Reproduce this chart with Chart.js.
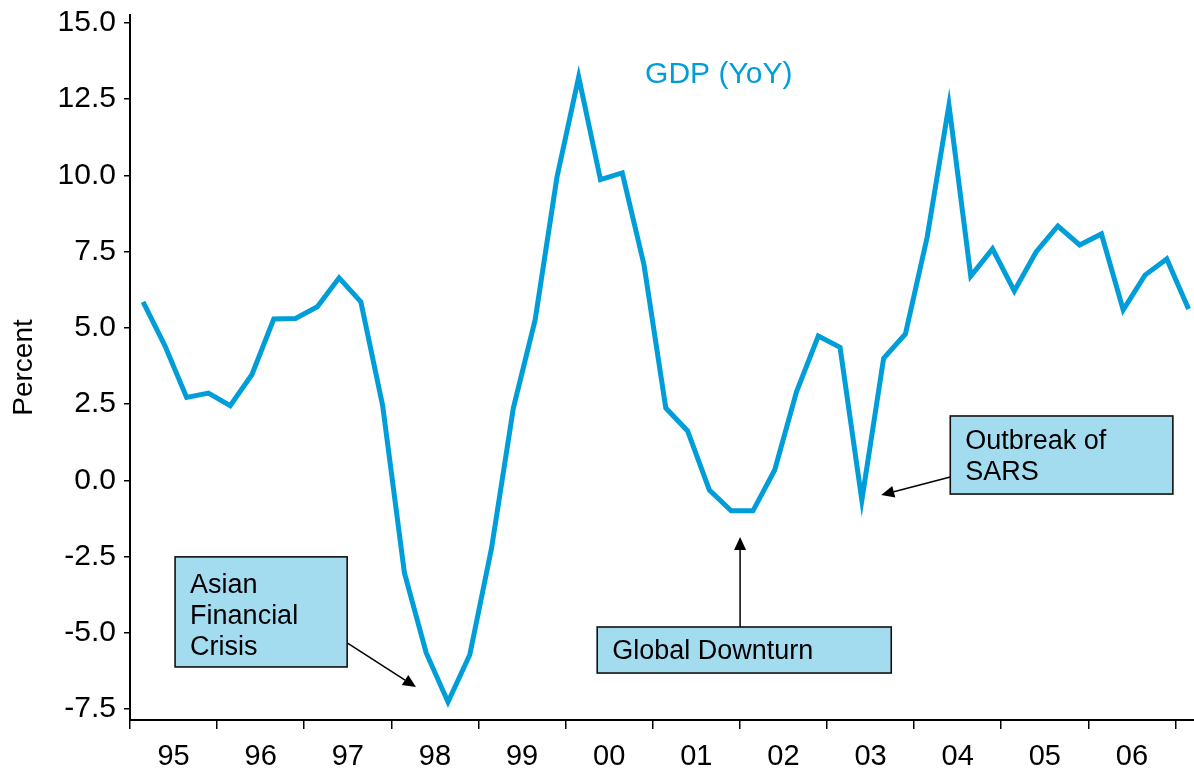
<!DOCTYPE html>
<html><head><meta charset="utf-8">
<script src="https://cdn.jsdelivr.net/npm/chart.js@4/dist/chart.umd.min.js"></script>
<style>html,body{margin:0;padding:0;background:#fff;overflow:hidden}canvas{display:block}</style>
</head><body>
<canvas id="c" width="1194" height="775"></canvas>
<script>
// Year labels on the x axis (one per year, 4 quarters each)
const years = ['95','96','97','98','99','00','01','02','03','04','05','06'];
// Quarterly periods, 1995Q1 .. 2007Q1
const quarters = [
 '95Q1','95Q2','95Q3','95Q4','96Q1','96Q2','96Q3','96Q4','97Q1','97Q2','97Q3','97Q4',
 '98Q1','98Q2','98Q3','98Q4','99Q1','99Q2','99Q3','99Q4','00Q1','00Q2','00Q3','00Q4',
 '01Q1','01Q2','01Q3','01Q4','02Q1','02Q2','02Q3','02Q4','03Q1','03Q2','03Q3','03Q4',
 '04Q1','04Q2','04Q3','04Q4','05Q1','05Q2','05Q3','05Q4','06Q1','06Q2','06Q3','06Q4','07Q1'
];
// GDP growth, year on year, percent
const gdpYoY = [
 5.85, 4.42, 2.72, 2.86, 2.45, 3.47, 5.29, 5.31, 5.69, 6.64, 5.85, 2.45,
 -3.04, -5.66, -7.27, -5.72, -2.22, 2.37, 5.26, 9.93, 13.23, 9.86, 10.08, 7.06,
 2.37, 1.62, -0.32, -1.0, -1.0, 0.34, 2.9, 4.73, 4.36, -0.65, 4.0, 4.8,
 7.98, 12.31, 6.7, 7.59, 6.21, 7.49, 8.34, 7.72, 8.08, 5.59, 6.73, 7.26, 5.62
];
const yTicks = [-7.5, -5.0, -2.5, 0.0, 2.5, 5.0, 7.5, 10.0, 12.5, 15.0];
const seriesName = 'GDP (YoY)';
const yTitle = 'Percent';

// Annotation callouts (box corners and arrows in data units: x = quarter index, y = percent)
const notes = [
  {lines:['Asian','Financial','Crisis'], box:[2.07,-2.51,9.97,-6.12], from:[9.97,-5.33], to:[13.13,-6.78], first:27},
  {lines:['Global Downturn'], box:[21.45,-4.81,34.95,-6.32], from:[28.01,-4.81], to:[28.01,-1.86], first:23},
  {lines:['Outbreak of','SARS'], box:[37.66,2.11,47.88,-0.45], from:[37.66,0.11], to:[34.49,-0.48], first:24}
];

const BLUE = '#009ED9';
const FONT = "'Liberation Sans', Arial, sans-serif";

const points = gdpYoY.map((v, i) => ({x: i + 0.6, y: v}));

function arrow(ctx, x1, y1, x2, y2) {
  const ang = Math.atan2(y2 - y1, x2 - x1);
  const L = 13, W = 6;
  const bx = x2 - L * Math.cos(ang), by = y2 - L * Math.sin(ang);
  ctx.beginPath();
  ctx.moveTo(x1, y1); ctx.lineTo(bx, by);
  ctx.strokeStyle = '#000'; ctx.lineWidth = 1.5; ctx.stroke();
  ctx.beginPath();
  ctx.moveTo(x2, y2);
  ctx.lineTo(bx + W * Math.sin(ang), by - W * Math.cos(ang));
  ctx.lineTo(bx - W * Math.sin(ang), by + W * Math.cos(ang));
  ctx.closePath(); ctx.fillStyle = '#000'; ctx.fill();
}

const notesPlugin = {
  id: 'notes',
  afterDatasetsDraw(chart) {
    const {ctx, scales: {x, y}} = chart;
    ctx.save();
    // series label
    ctx.font = '30px ' + FONT;
    ctx.fillStyle = BLUE;
    ctx.textBaseline = 'alphabetic';
    ctx.textAlign = 'left';
    ctx.fillText(seriesName, x.getPixelForValue(23.65), y.getPixelForValue(13.36) + 10);
    for (const n of notes) {
      const x1 = x.getPixelForValue(n.box[0]), y1 = y.getPixelForValue(n.box[1]);
      const x2 = x.getPixelForValue(n.box[2]), y2 = y.getPixelForValue(n.box[3]);
      arrow(ctx, x.getPixelForValue(n.from[0]), y.getPixelForValue(n.from[1]),
                 x.getPixelForValue(n.to[0]), y.getPixelForValue(n.to[1]));
      ctx.fillStyle = '#A3DBEF';
      ctx.fillRect(x1, y1, x2 - x1, y2 - y1);
      ctx.strokeStyle = '#111'; ctx.lineWidth = 1.6;
      ctx.strokeRect(x1, y1, x2 - x1, y2 - y1);
      ctx.fillStyle = '#000';
      ctx.font = '27px ' + FONT;
      n.lines.forEach((t, k) => {
        ctx.fillText(t, x1 + 15, y1 + n.first + k * 30.8 + 9.5);
      });
    }
    ctx.restore();
  }
};

new Chart(document.getElementById('c'), {
  type: 'line',
  data: {
    labels: quarters,
    datasets: [{
      label: seriesName,
      data: points,
      borderColor: BLUE,
      borderWidth: 5,
      pointRadius: 0,
      tension: 0,
      fill: false,
      borderJoinStyle: 'miter'
    }]
  },
  options: {
    responsive: false,
    animation: false,
    devicePixelRatio: 1,
    layout: {padding: {top: 15, right: 0, bottom: 0, left: 0}},
    plugins: {legend: {display: false}, tooltip: {enabled: false}},
    scales: {
      x: {
        type: 'linear',
        min: 0, max: 48.85,
        afterBuildTicks: s => { s.ticks = []; for (let v = 0; v <= 48; v += 2) s.ticks.push({value: v}); },
        afterFit: s => { s.height = 55; s.paddingLeft = 0; s.paddingRight = 0; },
        ticks: {
          autoSkip: false, maxRotation: 0, minRotation: 0,
          padding: 11,
          color: '#000',
          font: {family: FONT, size: 29},
          callback: v => (v % 4 === 2 ? years[(v - 2) / 4] : '')
        },
        grid: {
          drawOnChartArea: false, drawTicks: true, tickLength: 9,
          lineWidth: 1.5,
          color: c => (c.tick && c.tick.value % 4 === 0 ? '#000' : 'rgba(0,0,0,0)')
        },
        border: {display: true, color: '#000', width: 2}
      },
      y: {
        min: -7.86, max: 15.26,
        afterBuildTicks: s => { s.ticks = yTicks.map(v => ({value: v})); },
        afterFit: s => { s.width = 130; s.paddingTop = 0; s.paddingBottom = 0; },
        ticks: {
          padding: 8,
          color: '#000',
          font: {family: FONT, size: 30},
          callback: v => Number(v).toFixed(1)
        },
        grid: {drawOnChartArea: false, drawTicks: true, tickLength: 6, lineWidth: 1.5, color: '#000'},
        border: {display: true, color: '#000', width: 2},
        title: {display: true, text: yTitle, color: '#000', font: {family: FONT, size: 28}, padding: {top: 7, bottom: 0}}
      }
    }
  },
  plugins: [notesPlugin]
});
</script>
</body></html>
